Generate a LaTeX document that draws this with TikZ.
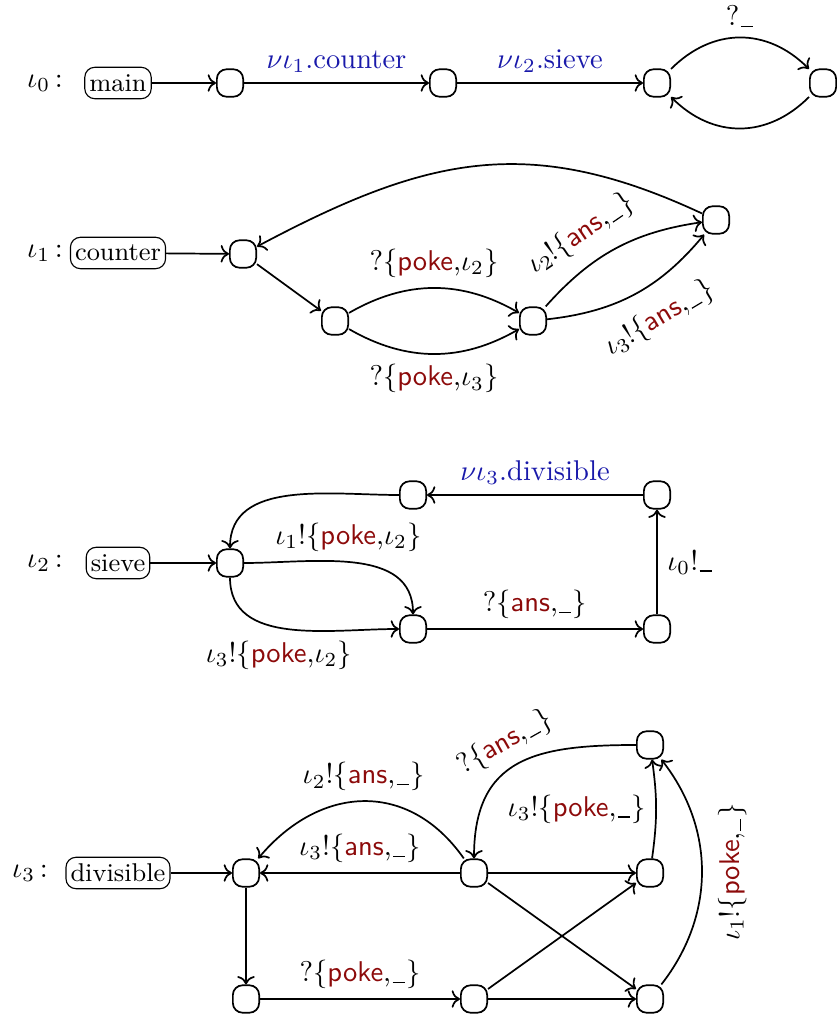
\documentclass[tikz,border=0pt]{standalone}
\usetikzlibrary{arrows.meta}
\definecolor{chanblue}{RGB}{25,25,170}
\definecolor{msgred}{RGB}{140,10,10}
\newcommand{\msg}[1]{\textcolor{msgred}{\textsf{#1}}}
\newcommand{\us}{\kern0.05em\rule[-0.12ex]{0.42em}{0.42pt}\kern0.05em}
\begin{document}
\begin{tikzpicture}[x=0.35pt,y=0.35pt,
  st/.style={draw, semithick, rounded corners=3.4pt, minimum width=9.2pt, minimum height=9.6pt, inner sep=0pt},
  proc/.style={draw, rounded corners=3.5pt, inner xsep=1.6pt, inner ysep=0pt, minimum height=11pt, font=\small},
  tr/.style={->, semithick},
  chan/.style={text=chanblue}]
\useasboundingbox (0,0) rectangle (837,1014);
% ---------- iota_0 ----------
\node (l0) at (45,931) {$\iota_0$\,:};
\node[proc] (main) at (118,931) {main};
\node[st] (a0) at (230,931) {};
\node[st] (b0) at (443,931) {};
\node[st] (c0) at (657,931) {};
\node[st] (d0) at (823,931) {};
\draw[tr] (main) -- (a0);
\draw[tr] (a0) -- node[above, chan] {$\nu\iota_1$.counter} (b0);
\draw[tr] (b0) -- node[above, chan] {$\nu\iota_2$.sieve} (c0);
\draw[tr] (c0) to[bend left=45, looseness=1.1] node[above] {?\us} (d0);
\draw[tr] (d0) to[bend left=45, looseness=1.1] (c0);
% ---------- iota_1 ----------
\node (l1) at (45,761) {$\iota_1$\,:};
\node[proc] (counter) at (118,761) {counter};
\node[st] (a1) at (243,760) {};
\node[st] (b1) at (335,693) {};
\node[st] (c1) at (533,693) {};
\node[st] (d1) at (716,794) {};
\draw[tr] (counter) -- (a1);
\draw[tr] (a1) -- (b1);
\draw[tr] (b1) to[bend left=30] node[above] {?$\{$\msg{poke},$\iota_2\}$} (c1);
\draw[tr] (b1) to[bend right=30] node[below] {?$\{$\msg{poke},$\iota_3\}$} (c1);
\draw[tr] (c1) to[bend left=20] node[sloped, above=2pt, pos=0.38] {$\iota_2$!$\{$\msg{ans},\us$\}$} (d1);
\draw[tr] (c1) to[bend right=22] node[sloped, below=3pt, pos=0.55] {$\iota_3$!$\{$\msg{ans},\us$\}$} (d1);
\draw[tr] (d1) to[out=155, in=28, looseness=1.1] (a1);
% ---------- iota_2 ----------
\node (l2) at (45,451) {$\iota_2$\,:};
\node[proc] (sieve) at (118,451) {sieve};
\node[st] (a2) at (230,451) {};
\node[st] (b2) at (413,519) {};
\node[st] (c2) at (413,385) {};
\node[st] (d2) at (657,385) {};
\node[st] (e2) at (657,519) {};
\draw[tr] (sieve) -- (a2);
\draw[tr] (e2) -- node[above, chan] {$\nu\iota_3$.divisible} (b2);
\draw[tr] (b2.west) to[out=180, in=90] (a2.north);
\draw[tr] (a2.east) to[out=0, in=90] node[above, pos=0.47] {$\iota_1$!$\{$\msg{poke},$\iota_2\}$} (c2.north);
\draw[tr] (a2.south) to[out=-90, in=180] node[below=1pt, pos=0.45] {$\iota_3$!$\{$\msg{poke},$\iota_2\}$} (c2.west);
\draw[tr] (c2) -- node[above] {?$\{$\msg{ans},\us$\}$} (d2);
\draw[tr] (d2) -- node[right] {$\iota_0$!\us} (e2);
% ---------- iota_3 ----------
\node (l3) at (30,141) {$\iota_3$\,:};
\node[proc] (divisible) at (118,141) {divisible};
\node[st] (a3) at (246,141) {};
\node[st] (b3) at (246,15) {};
\node[st] (c3) at (474,141) {};
\node[st] (d3) at (474,15) {};
\node[st] (e3) at (650,141) {};
\node[st] (f3) at (650,15) {};
\node[st] (g3) at (650,269) {};
\draw[tr] (divisible) -- (a3);
\draw[tr] (a3) -- (b3);
\draw[tr] (b3) -- node[above] {?$\{$\msg{poke},\us$\}$} (d3);
\draw[tr] (c3) -- node[above] {$\iota_3$!$\{$\msg{ans},\us$\}$} (a3);
\draw[tr] (c3) to[out=125, in=50, looseness=1.2] node[above] {$\iota_2$!$\{$\msg{ans},\us$\}$} (a3);
\draw[tr] (g3.west) to[out=180, in=90, looseness=1.3] node[sloped, above, pos=0.5] {?$\{$\msg{ans},\us$\}$} (c3.north);
\draw[tr] (c3) -- (e3);
\draw[tr] (c3) -- (f3);
\draw[tr] (d3) -- (e3);
\draw[tr] (d3) -- (f3);
\draw[tr] (e3) to[bend right=8] node[left] {$\iota_3$!$\{$\msg{poke},\us$\}$} (g3);
\draw[tr] (f3) to[bend right=38] node[sloped, below=2pt] {$\iota_1$!$\{$\msg{poke},\us$\}$} (g3);
\end{tikzpicture}
\end{document}
